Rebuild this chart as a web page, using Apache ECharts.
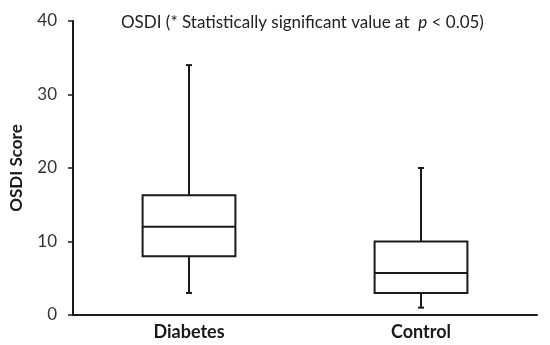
<!DOCTYPE html>
<html><head><meta charset="utf-8">
<script src="https://cdn.jsdelivr.net/npm/echarts@6/dist/echarts.min.js"></script>
<style>html,body{margin:0;padding:0;background:#fff}#c{width:550px;height:345px}</style>
</head><body><div id="c"></div>
<script>
var categories = ['Diabetes', 'Control'];
// [min, Q1, median, Q3, max]
var diabetesBox = [3, 8, 12, 16.3, 34];
var controlBox = [1, 3, 5.7, 10, 20];
var yTicks = [0, 10, 20, 30, 40];

var boxes = [diabetesBox, controlBox];
var data = boxes.map(function (b, i) { return [i].concat(b); });

var chart = echarts.init(document.getElementById('c'));
var font = 'Lato';
chart.setOption({
  animation: false,
  title: {
    text: '{n|OSDI (* Statistically significant value at  }{i|p}{n| < 0.05)}',
    left: 116, top: 9,
    textStyle: {
      rich: {
        n: { fontFamily: font, fontSize: 17, fontWeight: 'normal', color: '#222' },
        i: { fontFamily: font, fontSize: 17, fontWeight: 'normal', color: '#222', fontStyle: 'italic' }
      }
    }
  },
  grid: { left: 73, right: 13, top: 21, bottom: 30 },
  xAxis: {
    type: 'category', data: categories, boundaryGap: true,
    axisLine: { lineStyle: { color: '#1a1a1a', width: 2 } },
    axisTick: { alignWithLabel: true, length: 5, lineStyle: { color: '#1a1a1a', width: 1.5 } },
    axisLabel: { fontFamily: font, fontSize: 18, fontWeight: 'bold', color: '#1a1a1a', margin: 8 }
  },
  yAxis: {
    type: 'value', min: 0, max: 40, interval: 10,
    name: 'OSDI Score', nameLocation: 'middle', nameGap: 48, nameRotate: 90,
    nameTextStyle: { fontFamily: font, fontSize: 17, fontWeight: 'bold', color: '#1a1a1a' },
    axisLine: { show: true, lineStyle: { color: '#1a1a1a', width: 2 } },
    axisTick: { show: true, length: 5, lineStyle: { color: '#1a1a1a', width: 1.5 } },
    axisLabel: { fontFamily: font, fontSize: 17, color: '#333', margin: 16,
      formatter: function (v) { return yTicks.indexOf(v) >= 0 ? String(v) : ''; } },
    splitLine: { show: false }
  },
  series: [{
    type: 'custom',
    data: data,
    renderItem: function (params, api) {
      var idx = api.value(0);
      var pMin = api.coord([idx, api.value(1)]);
      var pQ1 = api.coord([idx, api.value(2)]);
      var pMed = api.coord([idx, api.value(3)]);
      var pQ3 = api.coord([idx, api.value(4)]);
      var pMax = api.coord([idx, api.value(5)]);
      var bw = api.size([1, 0])[0] * 0.4;
      var cx = pMed[0];
      var cap = 3;
      var st = { stroke: '#1a1a1a', lineWidth: 2, fill: null };
      return {
        type: 'group',
        children: [
          { type: 'rect', shape: { x: cx - bw / 2, y: pQ3[1], width: bw, height: pQ1[1] - pQ3[1] }, style: { stroke: '#1a1a1a', lineWidth: 2, fill: 'none' } },
          { type: 'line', shape: { x1: cx - bw / 2, y1: pMed[1], x2: cx + bw / 2, y2: pMed[1] }, style: st },
          { type: 'line', shape: { x1: cx, y1: pQ3[1], x2: cx, y2: pMax[1] }, style: st },
          { type: 'line', shape: { x1: cx, y1: pQ1[1], x2: cx, y2: pMin[1] }, style: st },
          { type: 'line', shape: { x1: cx - cap, y1: pMax[1], x2: cx + cap, y2: pMax[1] }, style: st },
          { type: 'line', shape: { x1: cx - cap, y1: pMin[1], x2: cx + cap, y2: pMin[1] }, style: st }
        ]
      };
    }
  }]
});
</script></body></html>
